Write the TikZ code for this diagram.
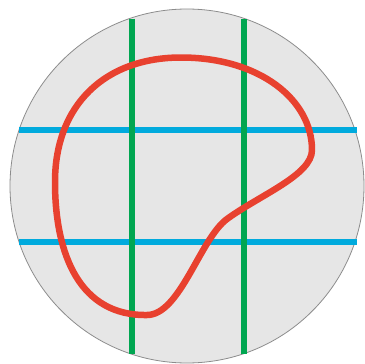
\documentclass[tikz,border=0pt]{standalone}
\usepackage{tikz}
\definecolor{diskgray}{HTML}{E6E6E6}
\definecolor{rimgray}{HTML}{8C8C8C}
\definecolor{gridgreen}{HTML}{00A651}
\definecolor{gridblue}{HTML}{00AADD}
\definecolor{loopred}{HTML}{E8412F}

\begin{document}
\begin{tikzpicture}[
  x=1pt, y=-1pt,
  disk/.style={draw=rimgray, fill=diskgray, line width=0.8pt},
  vline/.style={draw=gridgreen, line width=6.5pt},
  hline/.style={draw=gridblue, line width=6pt},
  curve/.style={draw=loopred, line width=6.5pt, line join=round},
]
% Fix the page to the reference frame
\useasboundingbox (0,0) rectangle (365,364);

% Disk
\path[disk] (187,186) circle[radius=177];

% Horizontal (blue) grid lines
\coordinate (h1w) at (19,129.5);  \coordinate (h1e) at (357,129.5);
\coordinate (h2w) at (19,242);    \coordinate (h2e) at (357,242);
\draw[hline] (h1w) -- (h1e);
\draw[hline] (h2w) -- (h2e);

% Vertical (green) grid lines
\coordinate (v1n) at (132,18.5); \coordinate (v1s) at (132,353.5);
\coordinate (v2n) at (244,18.5); \coordinate (v2s) at (244,353.5);
\draw[vline] (v1n) -- (v1s);
\draw[vline] (v2n) -- (v2s);

% Closed red loop
\coordinate (ltop) at (181,57.5);
\coordinate (lright) at (312,150);
\coordinate (lneck) at (227,219);
\coordinate (lbottom) at (147,315);
\coordinate (lleft) at (55,182);
\draw[curve] (ltop)
  .. controls (260,57.5) and (312,100) .. (lright)
  .. controls (312,175) and (260,195) .. (lneck)
  .. controls (200,239) and (180,315) .. (lbottom)
  .. controls (80,316) and (55,255) .. (lleft)
  .. controls (55,105) and (105,57.5) .. (ltop) -- cycle;
\end{tikzpicture}
\end{document}
